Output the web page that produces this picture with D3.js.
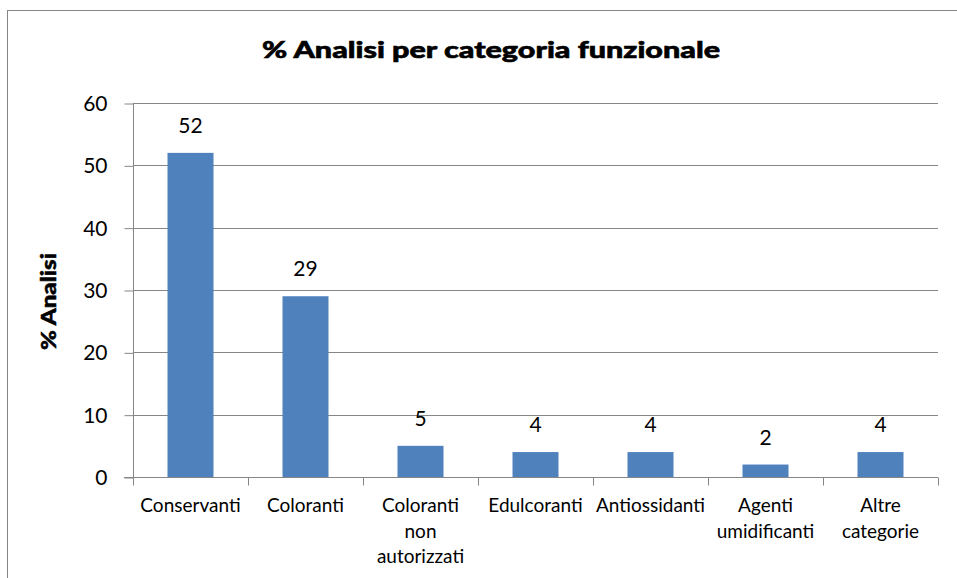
<!DOCTYPE html>
<html><head><meta charset="utf-8">
<script src="https://cdn.jsdelivr.net/npm/d3@7"></script>
<style>html,body{margin:0;padding:0;background:#fff;}svg{display:block;}</style>
</head><body>
<svg id="chart" width="957" height="578"></svg>
<script>
const categories = ["Conservanti","Coloranti","Coloranti non autorizzati","Edulcoranti","Antiossidanti","Agenti umidificanti","Altre categorie"];
const labelLines = [["Conservanti"],["Coloranti"],["Coloranti","non","autorizzati"],["Edulcoranti"],["Antiossidanti"],["Agenti","umidificanti"],["Altre","categorie"]];
const values = [52,29,5,4,4,2,4];
const yTicks = [0,10,20,30,40,50,60];
const title = "% Analisi per categoria funzionale";
const yTitle = "% Analisi";

const font = "Lato, 'Open Sans', sans-serif";
const svg = d3.select("#chart");
const m = {left:133, right:938, top:103, bottom:477};

svg.append("rect").attr("x",7.5).attr("y",10.5).attr("width",960).attr("height",580)
  .attr("fill","#fff").attr("stroke","#868686").attr("stroke-width",1);

const x = d3.scaleBand().domain(categories).range([m.left,m.right]).paddingInner(0.6).paddingOuter(0.3);
const y = d3.scaleLinear().domain([0,60]).range([m.bottom,m.top]);

// gridlines
svg.append("g").selectAll("line").data(yTicks.filter(d=>d>0)).join("line")
  .attr("x1",m.left).attr("x2",m.right)
  .attr("y1",d=>Math.round(y(d))+0.5).attr("y2",d=>Math.round(y(d))+0.5)
  .attr("stroke","#868686").attr("stroke-width",1);

// y axis
const yAxis = svg.append("g").attr("transform",`translate(${m.left+0.5},0)`)
  .call(d3.axisLeft(y).tickValues(yTicks).tickSize(9).tickPadding(17).tickFormat(d3.format("d")));
yAxis.select(".domain").attr("stroke","#868686").attr("d",`M0,${m.top}V${m.bottom}`);
yAxis.selectAll(".tick line").attr("stroke","#868686").attr("transform","translate(0,0.5)");
yAxis.selectAll(".tick text").attr("font-family",font).attr("font-size",21).attr("fill","#000").attr("dy","0.36em");

// bars
svg.append("g").selectAll("rect").data(values).join("rect")
  .attr("x",(d,i)=>x(categories[i])).attr("width",x.bandwidth())
  .attr("y",d=>y(d)).attr("height",d=>y(0)-y(d))
  .attr("fill","#4F81BD");

// x axis
const xb = d3.scaleLinear().domain([0,categories.length]).range([m.left,m.right]);
const xAxis = svg.append("g").attr("transform",`translate(0,${m.bottom+0.5})`);
xAxis.append("line").attr("x1",m.left-9).attr("x2",m.right).attr("stroke","#868686");
xAxis.selectAll("line.t").data(d3.range(categories.length+1)).join("line").attr("class","t")
  .attr("x1",d=>Math.round(xb(d))+0.5).attr("x2",d=>Math.round(xb(d))+0.5)
  .attr("y1",0).attr("y2",8).attr("stroke","#868686");

const cl = svg.append("g").selectAll("text").data(labelLines).join("text")
  .attr("font-family",font).attr("font-size",19).attr("fill","#000").attr("text-anchor","middle");
cl.each(function(lines,i){
  const cx = x(categories[i]) + x.bandwidth()/2;
  d3.select(this).selectAll("tspan").data(lines).join("tspan")
    .attr("x",cx).attr("y",(d,j)=>512+j*25.5).text(d=>d);
});

// value labels
svg.append("g").selectAll("text").data(values).join("text")
  .attr("x",(d,i)=>x(categories[i])+x.bandwidth()/2)
  .attr("y",d=>y(d)-20)
  .attr("text-anchor","middle").attr("font-family",font).attr("font-size",21).attr("fill","#000")
  .text(d=>d);

// title
svg.append("text").attr("x",491).attr("y",58).attr("text-anchor","middle")
  .attr("font-family",font).attr("font-weight",900).attr("font-size",23).attr("fill","#000")
  .attr("stroke","#000").attr("stroke-width",0.6)
  .attr("textLength",458).attr("lengthAdjust","spacingAndGlyphs").text(title);

// y title
svg.append("text").attr("transform",`translate(56,${(253+350)/2}) rotate(-90)`)
  .attr("text-anchor","middle").attr("font-family",font).attr("font-weight",900)
  .attr("font-size",21).attr("fill","#000").attr("stroke","#000").attr("stroke-width",0.5)
  .attr("textLength",97).attr("lengthAdjust","spacingAndGlyphs").text(yTitle);
</script>
</body></html>
